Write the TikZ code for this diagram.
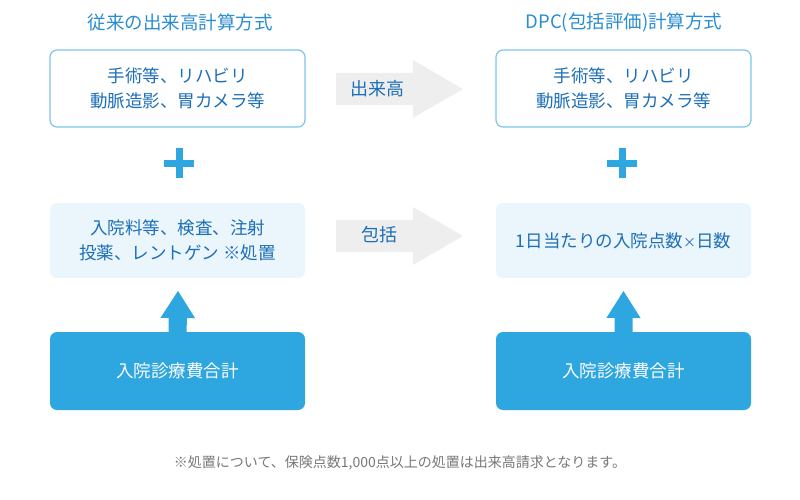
\documentclass[tikz,border=0pt]{standalone}
\usepackage{fontspec}
\setmainfont{Noto Sans CJK JP}
\usetikzlibrary{arrows.meta}
\definecolor{ttl}{HTML}{2A8DD0}
\definecolor{txt}{HTML}{1D6FB7}
\definecolor{bord}{HTML}{7CC6EC}
\definecolor{pale}{HTML}{EAF5FC}
\definecolor{strong}{HTML}{2EA6DF}
\definecolor{garr}{HTML}{EEEEEE}
\definecolor{foot}{HTML}{777777}
\tikzset{
  box/.style={rounded corners=7pt, minimum width=255pt, minimum height=77pt, align=center, font=\fontsize{17.5}{25}\selectfont, text=txt, inner sep=0pt},
  whitebox/.style={box, draw=bord, line width=1.2pt, fill=white},
  palebox/.style={box, fill=pale, minimum height=75pt},
  strongbox/.style={box, fill=strong, text=white, minimum height=78pt},
  ttlstyle/.style={font=\fontsize{18.5}{20}\selectfont, text=ttl},
  plus/.style={strong, line width=7pt},
  uparrow/.style={fill=strong},
  grayarrow/.style={fill=garr},
  arrlabel/.style={font=\fontsize{18}{20}\selectfont, text=txt}
}
\begin{document}
\begin{tikzpicture}[x=1pt,y=-1pt]
\useasboundingbox (0,0) rectangle (800,500);
% titles
\node[ttlstyle] (t1) at (180,22) {従来の出来高計算方式};
\node[ttlstyle] (t2) at (624,22) {DPC(包括評価)計算方式};
% boxes
\node[whitebox] (a1) at (177.5,88.5) {手術等、リハビリ\\動脈造影、胃カメラ等};
\node[whitebox] (a2) at (623.5,88.5) {手術等、リハビリ\\動脈造影、胃カメラ等};
\node[palebox] (b1) at (177.5,240.5) {入院料等、検査、注射\\投薬、レントゲン\ ※処置};
\node[palebox] (b2) at (623.5,240.5) {1日当たりの入院点数{\fontsize{13}{13}\selectfont ×}日数};
\node[strongbox] (c1) at (177.5,371) {入院診療費合計};
\node[strongbox] (c2) at (623.5,371) {入院診療費合計};
% plus signs
\coordinate (p1) at (179,163);
\coordinate (p2) at (622,163);
\foreach \p in {p1,p2}{
  \draw[plus] ([xshift=-15pt]\p) -- ([xshift=15pt]\p);
  \draw[plus] ([yshift=-15pt]\p) -- ([yshift=15pt]\p);
}
% up arrows
\fill[uparrow] ([xshift=-9pt]c1.north) -- ++(0,-14) -- ++(-8,0) -- (178,291) -- (195,318) -- ++(-8,0) -- ([xshift=9pt]c1.north) -- cycle;
\fill[uparrow] ([xshift=-9pt]c2.north) -- ++(0,-14) -- ++(-8,0) -- (623.5,291) -- (640.5,318) -- ++(-8,0) -- ([xshift=9pt]c2.north) -- cycle;
% gray arrows
\fill[grayarrow] (336,73) -- (413,73) -- (413,60) -- (463,89) -- (413,118) -- (413,105) -- (336,105) -- cycle;
\fill[grayarrow] (336,220) -- (413,220) -- (413,207) -- (463,236) -- (413,265) -- (413,252) -- (336,252) -- cycle;
\node[arrlabel] (l1) at (377,89) {出来高};
\node[arrlabel] (l2) at (379,235) {包括};
% footnote
\node[font=\fontsize{14}{16}\selectfont, text=foot] (fn) at (400,463) {※処置について、保険点数1,000点以上の処置は出来高請求となります。};
\end{tikzpicture}
\end{document}
